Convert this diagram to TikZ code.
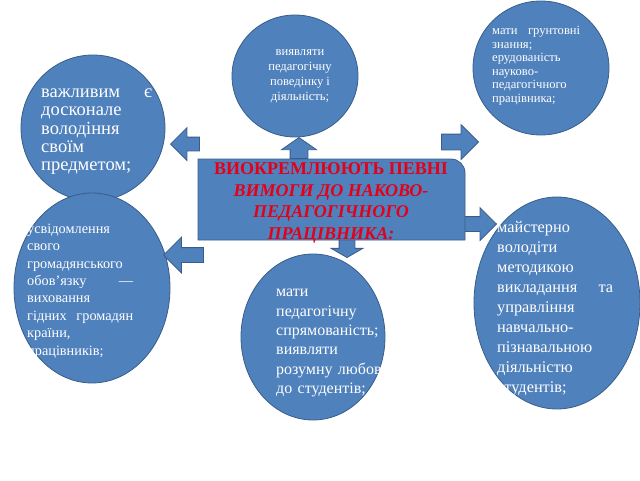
\documentclass[tikz,border=0pt]{standalone}
\usepackage{fontspec}
\setmainfont{Liberation Serif}
\usetikzlibrary{shapes.geometric,shapes.arrows}
\definecolor{fillblue}{HTML}{4F81BD}
\definecolor{edgeblue}{HTML}{385D8A}
\definecolor{headred}{RGB}{228,0,24}
\newcommand{\wordfill}{\hskip 0pt plus 1filll\relax}
\tikzset{
    bubble/.style={ellipse,draw=edgeblue,fill=fillblue,line width=0.8pt,inner sep=0pt},
    bubbletext/.style={text=white,inner sep=0pt,align=left,anchor=north west},
    blockarrow/.style={single arrow,draw=edgeblue,fill=fillblue,line width=0.8pt,anchor=tip}
}
\begin{document}
\begin{tikzpicture}[x=1pt,y=-1pt]
        \useasboundingbox (0,0) rectangle (640,480);
        %% Bubbles
        \node[bubble,minimum width=126pt,minimum height=122pt] (top) at (295,76) {};
        \node[bubble,minimum width=136pt,minimum height=134pt] (topright) at (541,68) {};
        \node[bubble,minimum width=144pt,minimum height=146pt] (lefttop) at (93,128) {};
        \node[bubble,minimum width=156pt,minimum height=190pt] (leftbot) at (92,288) {};
        \node[bubble,minimum width=166pt,minimum height=212pt] (rightbot) at (557,303) {};
        \node[bubble,minimum width=144pt,minimum height=166pt] (bottom) at (313,337) {};
        %% Arrows
        \node[blockarrow,inner xsep=8.5pt,inner ysep=0pt,single arrow head extend=8.5pt,single arrow tip angle=110,
            minimum height=21pt,shape border rotate=90] (uparr) at (299,137) {};
        \node[blockarrow,inner xsep=7.5pt,inner ysep=0pt,single arrow head extend=8pt,single arrow tip angle=120,
            minimum height=18pt,shape border rotate=270] (downarr) at (347,258) {};
        \node[blockarrow,inner xsep=0pt,inner ysep=6.5pt,single arrow head extend=9.5pt,
            minimum height=29pt,shape border rotate=180] (ltarr) at (170,144) {};
        \node[blockarrow,inner xsep=0pt,inner ysep=7pt,single arrow head extend=10.5pt,
            minimum height=40pt,shape border rotate=180] (lbarr) at (163,255) {};
        \node[blockarrow,inner xsep=0pt,inner ysep=7.5pt,single arrow head extend=9.5pt,
            minimum height=37pt] (rtarr) at (479,142) {};
        \node[blockarrow,inner xsep=0pt,inner ysep=7pt,single arrow head extend=9pt,
            minimum height=32pt] (rbarr) at (497,224) {};
        %% Centre box
        \draw[draw=edgeblue,fill=fillblue,line width=0.8pt]
            (198,240) -- (198,159) [rounded corners=14pt] -- (465,159) [sharp corners] -- (465,240) -- cycle;
        \node[text=headred,inner sep=0pt,align=center,anchor=north,
            font={\fontsize{18}{21.7}\selectfont\bfseries}] (head) at (331,159)
            {\strut ВИОКРЕМЛЮЮТЬ ПЕВНІ\\\itshape ВИМОГИ ДО НАКОВО-\\\itshape ПЕДАГОГІЧНОГО\\\itshape ПРАЦІВНИКА:};
        %% Texts
        \node[bubbletext,align=center,anchor=north,font={\fontsize{12.6}{15}\selectfont}] (toptext) at (300,45)
            {\strut виявляти\\педагогічну\\поведінку і\\діяльність;};
        \node[bubbletext,text width=88pt,font={\fontsize{12.6}{13.5}\selectfont}] (toprighttext) at (492,25)
            {\strut мати \wordfill грунтовні\\знання;\\ерудованість\\науково-\\педагогічного\\працівника;};
        \node[bubbletext,text width=111pt,font={\fontsize{18.5}{18.3}\selectfont}] (lefttoptext) at (41,84.5)
            {\strut важливим \wordfill є\\досконале\\володіння\\своїм\\предметом;};
        \node[bubbletext,text width=106pt,font={\fontsize{14.3}{17.4}\selectfont}] (leftbottext) at (27,221)
            {\strut усвідомлення\\свого\\громадянського\\обов'язку \wordfill —\\виховання\\гідних \wordfill громадян\\країни,\\працівників;};
        \node[bubbletext,text width=116pt,font={\fontsize{16.3}{20}\selectfont}] (rightbottext) at (497,218)
            {\strut майстерно\\володіти\\методикою\\викладання \wordfill та\\управління\\навчально-\\пізнавальною\\діяльністю\\студентів;};
        \node[bubbletext,text width=110pt,font={\fontsize{16}{19.4}\selectfont}] (bottomtext) at (276,283)
            {\strut мати\\педагогічну\\спрямованість;\\виявляти\\розумну любов\\до студентів;};
    \end{tikzpicture}
\end{document}
